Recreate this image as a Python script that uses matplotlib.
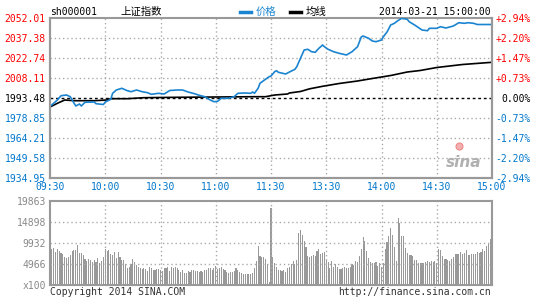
import matplotlib
matplotlib.use('Agg')
import matplotlib.pyplot as plt
from matplotlib.lines import Line2D
import numpy as np

# ---- data ----
prev_close = 1993.48
price_ticks = [2052.01, 2037.38, 2022.74, 2008.11, 1993.48, 1978.85, 1964.21, 1949.58, 1934.95]
pct_labels = ['+2.94%', '+2.20%', '+1.47%', '+0.73%', '0.00%', '-0.73%', '-1.47%', '-2.20%', '-2.94%']
time_labels = ['09:30', '10:00', '10:30', '11:00', '11:30', '13:30', '14:00', '14:30', '15:00']
vol_ticks = [0, 4966, 9932, 14898, 19863]
vol_labels = ['x100', '4966', '9932', '14898', '19863']

# price line: minute index (0..240) and price
price_min = [0, 4, 6, 9, 11, 12, 14, 16, 17, 19, 24, 25, 29, 30, 33, 34, 36, 39, 42, 44,
             47, 50, 53, 55, 59, 62, 65, 69, 72, 75, 79, 81, 84, 87, 89, 91, 93, 97, 100, 102,
             106, 109, 110, 111, 113, 114, 117, 119, 120, 122, 123, 124, 128, 130, 133, 134, 136, 138, 140, 142,
             144, 146, 148, 149, 151, 154, 157, 161, 164, 167, 169, 170, 173, 175, 177, 180, 181, 183, 185, 187,
             189, 191, 194, 195, 198, 202, 205, 206, 210, 212, 215, 219, 222, 225, 227, 230, 232, 240]
price_val = [1987.26, 1992.02, 1995.16, 1995.67, 1994.43, 1992.02, 1987.63, 1989.09, 1987.63, 1990.33,
             1990.55, 1989.31, 1988.72, 1990.55, 1992.53, 1996.92, 1999.33, 2000.58, 1998.82, 1998.09,
             1999.33, 1998.09, 1997.36, 1996.19, 1996.92, 1996.41, 1998.97, 1999.33, 1999.33, 1997.87,
             1996.41, 1995.46, 1994.43, 1992.02, 1990.77, 1991.06, 1993.26, 1993.26, 1994.43, 1996.92,
             1997.14, 1996.92, 1997.87, 1996.92, 2000.58, 2004.23, 2007.16, 2009.06, 2009.58, 2012.72,
             2013.45, 2012.28, 2011.04, 2012.50, 2014.48, 2016.38, 2022.53, 2028.60, 2029.11, 2027.35,
             2026.92, 2029.84, 2032.26, 2031.01, 2029.11, 2027.35, 2026.18, 2024.94, 2027.35, 2031.01,
             2038.11, 2038.84, 2037.16, 2035.18, 2034.67, 2035.91, 2038.33, 2041.77, 2046.89, 2048.13,
             2050.18, 2051.79, 2051.06, 2049.30, 2046.89, 2043.23, 2042.72, 2044.47, 2044.47, 2045.64,
             2044.69, 2046.16, 2048.57, 2048.13, 2048.57, 2048.13, 2047.25, 2047.25]

# average price line
avg_min = [0, 4, 8, 13, 24, 31, 33, 42, 51, 69, 111, 117, 122, 129, 130, 136, 141, 148, 157, 167,
           175, 185, 194, 201, 210, 224, 240]
avg_val = [1986.89, 1989.60, 1992.02, 1991.50, 1991.50, 1992.02, 1992.97, 1992.97, 1993.70, 1993.99,
           1994.43, 1994.43, 1995.67, 1996.41, 1997.14, 1998.24, 2000.21, 2002.04, 2004.09, 2005.92,
           2007.75, 2009.94, 2012.50, 2013.60, 2015.79, 2017.99, 2019.60]

# per-minute volume (x100 shares), 120 morning + 120 afternoon
volume = [8510, 8830, 7880, 8510, 8040, 7490, 7250, 6700, 6460, 6600, 7090, 8040,
          8270, 8270, 9460, 7490, 7640, 7090, 6070, 5750, 6150, 5910, 5520, 5800,
          5360, 6460, 5120, 5670, 6700, 8430, 8120, 8270, 7250, 7090, 7720, 6300,
          7800, 6700, 5910, 5910, 4890, 3940, 4330, 4960, 6070, 5520, 4730, 4330,
          4100, 3780, 3940, 3780, 3400, 4330, 4100, 3550, 3550, 3700, 3780, 3550,
          3310, 3940, 3940, 4180, 3300, 4330, 4100, 4330, 3940, 3550, 3150, 3600,
          2760, 2920, 3310, 3150, 3470, 3550, 3200, 3310, 3150, 3310, 3150, 3550,
          3550, 4100, 4100, 3500, 3940, 4490, 3780, 3940, 4180, 3780, 3550, 2990,
          2760, 2990, 3000, 3310, 4020, 3550, 3150, 2920, 2680, 2600, 2520, 2680,
          2520, 2920, 3940, 5750, 9300, 6930, 6540, 6700, 6150, 4890, 790, 18280,
          6620, 5120, 4330, 3550, 3550, 3400, 3550, 3150, 4100, 4330, 4890, 5670,
          4890, 5910, 12210, 13000, 11820, 10400, 9060, 6860, 6700, 6860, 7000, 6860,
          8040, 8510, 7250, 7600, 7880,
          5910, 5520, 4100, 5670, 4330, 4890, 4330, 3780, 3900, 4100, 4330, 4100,
          4100, 4200, 4890, 4730, 5670, 5520, 6860, 8510, 11430, 10400, 8040, 6460,
          5520, 5120, 5300, 5520, 4490, 5120, 4330,
          5120, 8510, 10240, 11660, 13400, 11820, 9060, 5670, 15920, 14580, 11660, 11660,
          8670, 7490, 7090, 7090, 6860, 5910, 5910, 5120, 5120, 5120, 5300, 5520,
          5670, 5520, 5670, 5520, 5670,
          5120, 8510, 8270, 6860, 6150, 6150, 6000, 5670, 6150, 6700, 7250, 7250,
          7400, 7720, 7250, 7490, 8270, 7090, 7090, 7300, 7250, 7250, 7720, 7640,
          7880, 8510, 8040, 9300, 9610, 10870, 14340]

# ---- style ----
mono = 'DejaVu Sans Mono'
cjk = ['Noto Sans CJK SC', 'DejaVu Sans']
RED = '#FF0000'
BLUE = '#0077CC'
LINE_BLUE = '#1B84D0'
GRID = '#AAAAAA'
FRAME = '#999999'
fs = 7

fig = plt.figure(figsize=(5.45, 3.0), dpi=100)
fig.patch.set_facecolor('white')

ax = fig.add_axes([50 / 545, 122 / 300, 442 / 545, 160 / 300])
axv = fig.add_axes([50 / 545, 15 / 300, 442 / 545, 84 / 300])

minutes = np.arange(0, 241, 30)

# price panel
ax.set_xlim(0, 240)
ax.set_ylim(price_ticks[-1], price_ticks[0])
for p in price_ticks[1:-1]:
    if p == prev_close:
        continue
    ax.axhline(p, color=GRID, lw=1, ls=(0, (1, 2)), zorder=1)
for m in minutes[1:-1]:
    ax.axvline(m, color=GRID, lw=1, ls=(0, (1, 2)), zorder=1)
ax.axhline(prev_close, color='black', lw=1, ls=(0, (2, 2)), zorder=2)
ax.plot(avg_min, avg_val, color='black', lw=1.2, zorder=3)
ax.plot(price_min, price_val, color=LINE_BLUE, lw=1.2, zorder=4)

def level_color(p):
    if p > prev_close:
        return RED
    if p < prev_close:
        return BLUE
    return 'black'

ax.set_yticks(price_ticks)
ax.set_yticklabels([f'{p:.2f}' for p in price_ticks], family=mono, fontsize=fs)
for lab, p in zip(ax.get_yticklabels(), price_ticks):
    lab.set_color(level_color(p))
ax.tick_params(axis='y', length=0, pad=3)

axr = ax.twinx()
axr.set_ylim(ax.get_ylim())
axr.set_yticks(price_ticks)
axr.set_yticklabels(pct_labels, family=mono, fontsize=fs, ha='right')
for lab, p in zip(axr.get_yticklabels(), price_ticks):
    lab.set_color(level_color(p))
axr.tick_params(axis='y', length=0, pad=28)

ax.set_xticks(minutes)
ax.set_xticklabels(time_labels, family=mono, fontsize=fs, color=BLUE)
ax.tick_params(axis='x', length=0, pad=3)

for a in (ax, axr):
    for s in a.spines.values():
        s.set_color(FRAME)
        s.set_linewidth(1.5)
axr.spines['top'].set_visible(False)

# sina watermark
ax.text(0.975, 0.05, 'sina', transform=ax.transAxes, ha='right', va='bottom',
        fontsize=11, fontweight='bold', style='italic', color='#B0B0B0', family='DejaVu Sans')
ax.plot([0.925], [0.2], 'o', transform=ax.transAxes, color='#F4B0B0', ms=5, mec='#EE8888', mew=0.8, zorder=5)

# volume panel
axv.set_xlim(0, 240)
axv.set_ylim(0, vol_ticks[-1])
axv.bar(np.arange(1, len(volume) + 1), volume, width=0.6, color='#999999',
        linewidth=0, antialiased=False, zorder=1)
for v in vol_ticks[1:-1]:
    axv.axhline(v, color=GRID, lw=1, ls=(0, (1, 2)), zorder=2)
for m in minutes[1:-1]:
    axv.axvline(m, color=GRID, lw=1, ls=(0, (1, 2)), zorder=2)
axv.set_yticks(vol_ticks)
axv.set_yticklabels(vol_labels, family=mono, fontsize=fs, color='#888888')
axv.tick_params(axis='y', length=0, pad=3)
axv.set_xticks([])
for s in axv.spines.values():
    s.set_color(FRAME)
    s.set_linewidth(1.5)

# header
fig.text(50 / 545, 1 - 12 / 300, 'sh000001', family=mono, fontsize=fs, va='center')
fig.text(120 / 545, 1 - 12 / 300, '上证指数', family=cjk, fontsize=7.5, va='center')
fig.add_artist(Line2D([240 / 545, 251 / 545], [1 - 12 / 300] * 2, color=LINE_BLUE, lw=2.5))
fig.text(256 / 545, 1 - 12 / 300, '价格', family=cjk, fontsize=7.5, va='center', color=LINE_BLUE)
fig.add_artist(Line2D([290 / 545, 301 / 545], [1 - 12 / 300] * 2, color='black', lw=2.5))
fig.text(306 / 545, 1 - 12 / 300, '均线', family=cjk, fontsize=7.5, va='center')
fig.text(491 / 545, 1 - 12 / 300, '2014-03-21 15:00:00', family=mono, fontsize=fs,
         va='center', ha='right')

# footer
fig.text(50 / 545, 1 - 292 / 300, 'Copyright 2014 SINA.COM', family=mono, fontsize=fs,
         va='center', color='#333333')
fig.text(491 / 545, 1 - 292 / 300, 'http://finance.sina.com.cn', family=mono, fontsize=fs,
         va='center', ha='right', color='#333333')

fig.savefig('out.png', dpi=100, facecolor='white')
